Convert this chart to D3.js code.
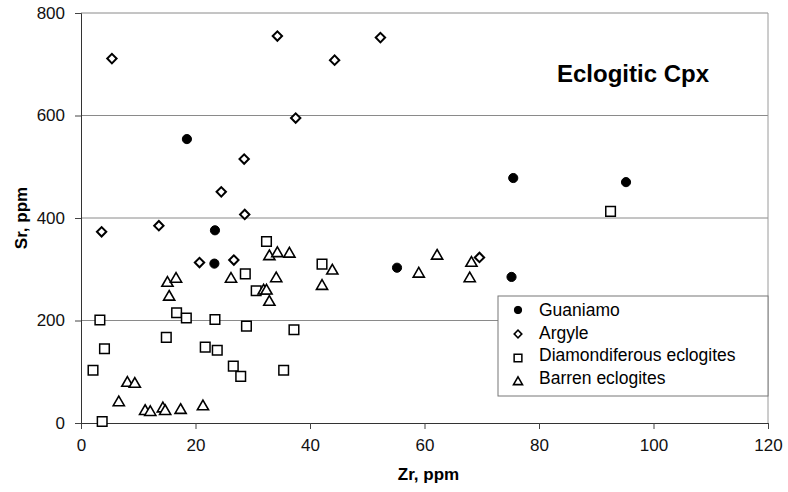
<!DOCTYPE html>
<html>
<head>
<meta charset="utf-8">
<script src="https://cdn.jsdelivr.net/npm/d3@7"></script>
<style>
  body { margin: 0; background: #fff; }
  svg { display: block; }
</style>
</head>
<body>
<svg width="788" height="492"></svg>
<script>
// data (Zr, Sr in ppm)
var guaniamo = [[18.5, 554], [23.4, 376], [23.3, 311], [55.2, 303], [75.5, 478], [75.2, 285], [95.2, 470]];
var argyle = [[5.4, 711], [34.3, 755], [52.3, 752], [44.3, 708], [37.5, 595], [28.5, 515], [24.5, 451],
    [28.6, 407], [3.6, 373], [13.6, 385], [20.7, 313], [26.7, 318], [69.6, 323]];
var diamondiferous = [[32.4, 354], [28.7, 291], [30.6, 258], [42.1, 310], [16.7, 215], [18.4, 205], [3.3, 201],
    [23.4, 202], [28.9, 189], [37.2, 182], [14.9, 167], [4.1, 145], [21.7, 148], [23.8, 142], [2.1, 103],
    [26.6, 111], [27.9, 91], [35.4, 103], [3.7, 3], [92.5, 413]];
var barren = [[32.9, 325], [34.3, 331], [36.4, 330], [26.2, 281], [34.1, 282], [31.9, 258], [32.4, 258],
    [32.9, 236], [15.1, 273], [16.6, 281], [15.4, 246], [43.9, 297], [42.1, 267], [59, 291], [62.2, 326],
    [68.2, 312], [67.9, 282], [8.1, 78], [9.4, 76], [6.6, 40], [11.2, 23], [12.1, 21], [14.3, 28],
    [14.7, 23], [17.4, 25], [21.3, 32]];

var seriesNames = ["Guaniamo", "Argyle", "Diamondiferous eclogites", "Barren eclogites"];
var xTicks = [0, 20, 40, 60, 80, 100, 120];
var yTicks = [0, 200, 400, 600, 800];

var marge = { top: 13, left: 81, right: 20, bottom: 69 };
var svg = d3.select("svg");
var width = +svg.attr("width") - marge.left - marge.right;
var height = +svg.attr("height") - marge.top - marge.bottom;
var g = svg.append("g").attr("transform", "translate(" + marge.left + "," + marge.top + ")");

var x = d3.scaleLinear().domain([0, 120]).range([0, width]);
var y = d3.scaleLinear().domain([0, 800]).range([height, 0]);

// grid lines
g.append("g")
    .selectAll("line")
    .data(yTicks.slice(1))
    .enter()
    .append("line")
    .attr("x1", 0).attr("x2", width)
    .attr("y1", function (d) { return y(d); })
    .attr("y2", function (d) { return y(d); })
    .attr("stroke", "#8a8a8a")
    .attr("stroke-width", 1);

// right border
g.append("line")
    .attr("x1", width).attr("x2", width)
    .attr("y1", 0).attr("y2", height)
    .attr("stroke", "#9a9a9a");

var tickFont = "'Liberation Sans Narrow', 'Arial Narrow', 'Liberation Sans', sans-serif";

var xAxis = g.append("g")
    .attr("transform", "translate(0," + height + ")")
    .call(d3.axisBottom(x).tickValues(xTicks).tickSize(6).tickPadding(10));
var yAxis = g.append("g")
    .call(d3.axisLeft(y).tickValues(yTicks).tickSize(6).tickPadding(10));

[xAxis, yAxis].forEach(function (a) {
    a.select(".domain").attr("stroke", "#333");
    a.selectAll(".tick line").attr("stroke", "#444");
    a.selectAll("text")
        .attr("font-family", tickFont)
        .attr("font-size", 17)
        .attr("fill", "#111");
});

// axis titles
svg.append("text")
    .attr("x", marge.left + x(60) + 4)
    .attr("y", 480)
    .attr("text-anchor", "middle")
    .attr("font-family", tickFont)
    .attr("font-weight", "bold")
    .attr("font-size", 17)
    .text("Zr, ppm");

svg.append("text")
    .attr("transform", "translate(27," + (marge.top + y(400)) + ") rotate(-90)")
    .attr("text-anchor", "middle")
    .attr("font-family", tickFont)
    .attr("font-weight", "bold")
    .attr("font-size", 17)
    .text("Sr, ppm");

// chart title
svg.append("text")
    .attr("x", 557)
    .attr("y", 82)
    .attr("font-family", "'Liberation Sans', Arial, sans-serif")
    .attr("font-weight", "bold")
    .attr("font-size", 24)
    .text("Eclogitic Cpx");

// marker styles
var styles = [
    { type: d3.symbolCircle, size: 66, fill: "#000", rot: 0, sw: 1 },
    { type: d3.symbolSquare, size: 44, fill: "#fff", rot: 45, sw: 2 },
    { type: d3.symbolSquare, size: 92, fill: "#fff", rot: 0, sw: 1.5 },
    { type: d3.symbolTriangle, size: 54, fill: "#fff", rot: 0, sw: 1.6 }
];
var allSeries = [guaniamo, argyle, diamondiferous, barren];

allSeries.forEach(function (data, i) {
    var s = styles[i];
    g.append("g")
        .selectAll("path")
        .data(data)
        .enter()
        .append("path")
        .attr("d", d3.symbol().type(s.type).size(s.size))
        .attr("transform", function (d) {
            return "translate(" + x(d[0]) + "," + y(d[1]) + ") rotate(" + s.rot + ")";
        })
        .attr("fill", s.fill)
        .attr("stroke", "#000")
        .attr("stroke-width", s.sw);
});

// legend
var legend = svg.append("g").attr("transform", "translate(498,296)");
legend.append("rect")
    .attr("width", 270).attr("height", 100)
    .attr("fill", "#fff")
    .attr("stroke", "#777");

var items = legend.selectAll(".item")
    .data(seriesNames)
    .enter()
    .append("g")
    .attr("transform", function (d, i) { return "translate(0," + (14 + i * 22.5) + ")"; });

items.append("path")
    .attr("d", function (d, i) {
        return d3.symbol().type(styles[i].type).size(styles[i].size * 0.65)();
    })
    .attr("transform", function (d, i) {
        return "translate(20," + (i * 1.5) + ") rotate(" + styles[i].rot + ")";
    })
    .attr("fill", function (d, i) { return styles[i].fill; })
    .attr("stroke", "#000")
    .attr("stroke-width", function (d, i) { return Math.min(styles[i].sw, 1.6); });

items.append("text")
    .attr("x", 41)
    .attr("y", 6)
    .attr("font-family", "'Liberation Sans', Arial, sans-serif")
    .attr("font-size", 17.5)
    .text(function (d) { return d; });
</script>
</body>
</html>
